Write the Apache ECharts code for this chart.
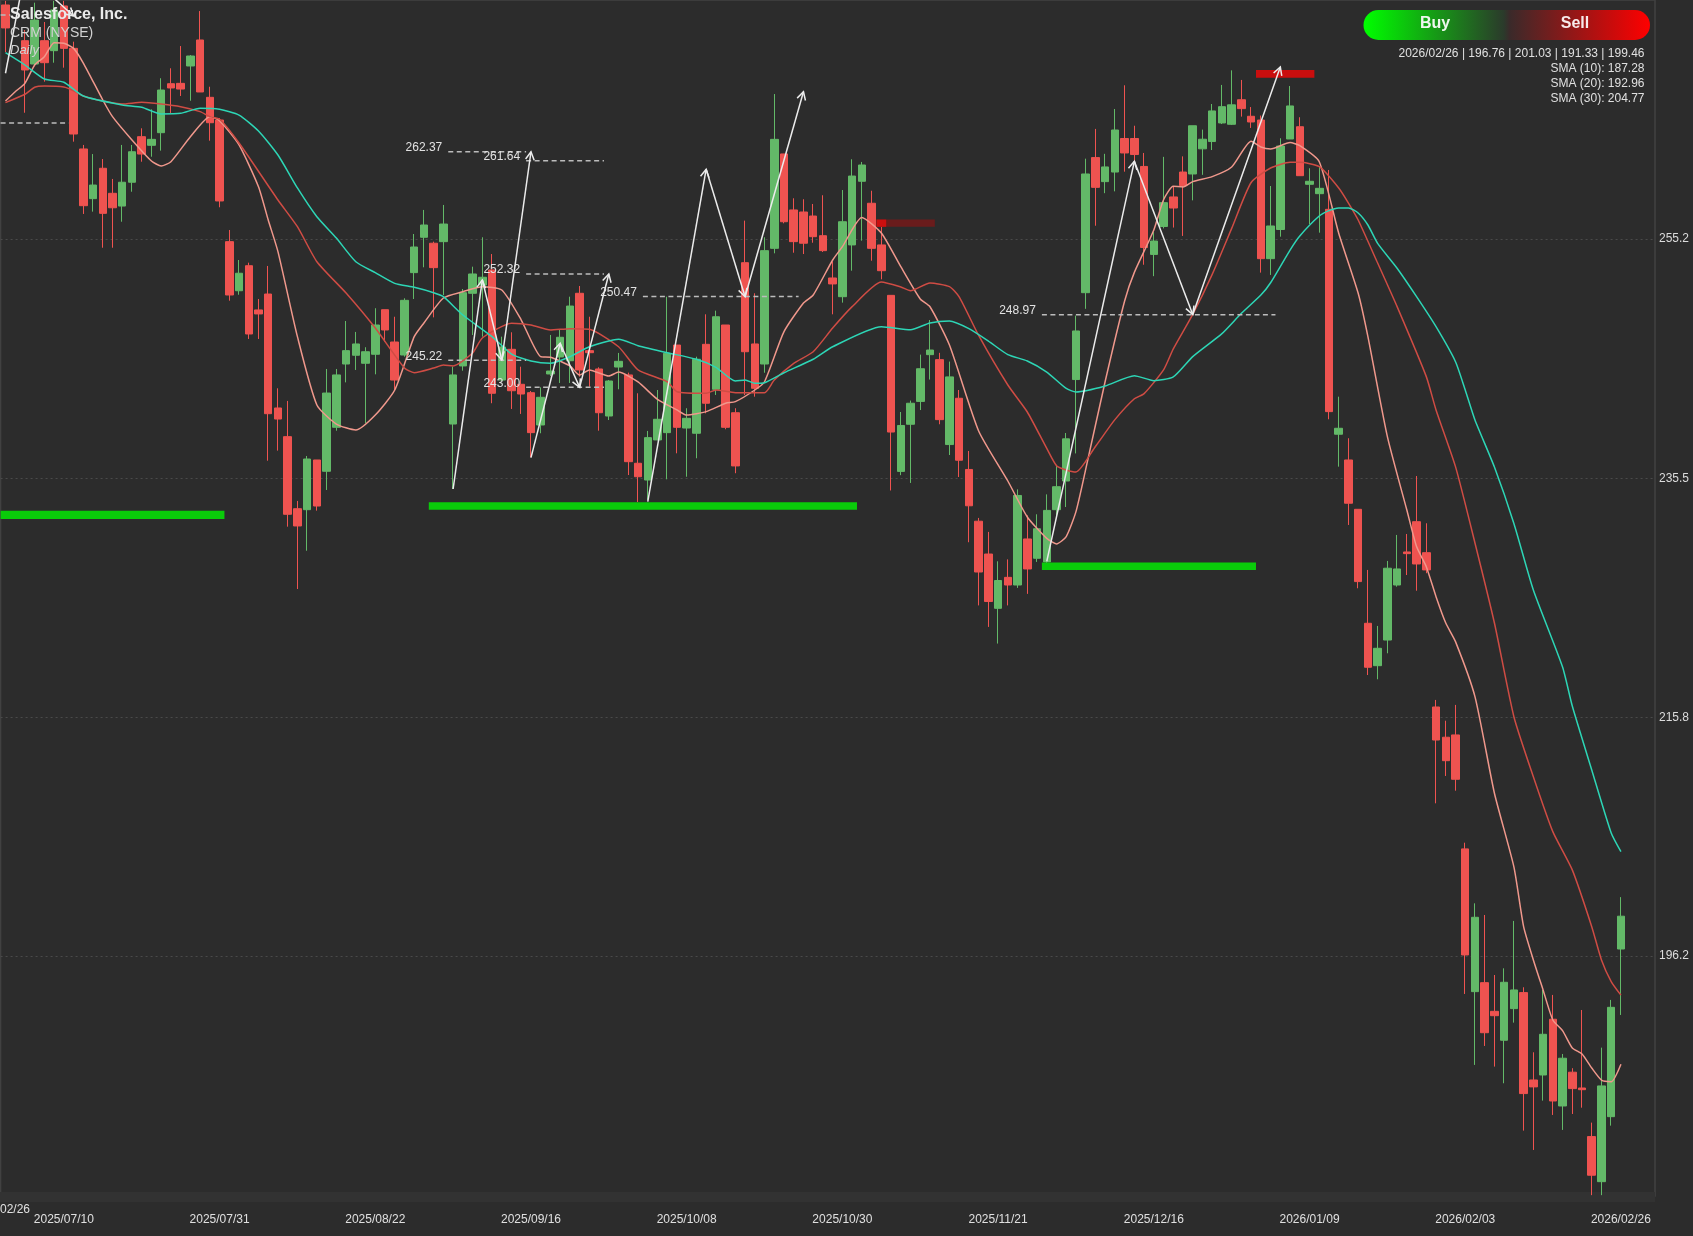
<!DOCTYPE html>
<html>
<head>
<meta charset="utf-8">
<title>CRM Daily</title>
<script src="https://cdn.jsdelivr.net/npm/echarts@6/dist/echarts.min.js"></script>
<style>
  html, body { margin: 0; padding: 0; background: #2c2c2c; }
  #main { width: 1693px; height: 1236px; }
</style>
</head>
<body>
<div id="main"></div>
<script>
// candles (oldest first)
const opens = [
  274.46,276.5,271.52,269.60,271.52,270.70,274.38,270.89,262.61,258.52,
  261.02,258.96,257.91,259.87,263.62,262.91,263.95,267.98,268.01,269.44,
  271.58,266.86,264.99,254.98,250.94,253.00,249.36,250.67,241.29,238.93,
  233.00,232.92,237.01,236.08,239.70,244.91,245.63,244.97,245.71,249.38,
  246.72,245.65,252.43,255.34,254.85,254.98,239.97,244.75,250.73,251.41,
  252.65,243.59,246.12,243.24,242.55,239.89,244.09,245.49,245.18,250.73,
  246.01,244.50,240.63,244.66,244.01,236.74,235.36,238.66,239.26,246.47,
  239.64,239.21,246.53,242.83,248.12,240.90,253.25,246.56,244.91,254.43,
  262.20,257.59,257.42,257.09,255.47,251.99,250.45,254.71,259.95,258.14,
  254.71,250.56,236.07,239.95,241.83,245.68,245.27,238.28,242.09,236.23,
  231.97,229.27,224.80,227.35,226.72,230.51,228.92,228.62,232.92,235.28,
  243.63,250.78,261.90,259.92,260.71,263.47,263.47,261.17,253.93,256.23,
  258.66,260.71,260.55,262.62,263.22,264.75,264.64,266.66,265.30,264.99,
  253.58,255.98,263.43,264.44,259.70,258.93,257.64,239.13,237.01,232.95,
  223.57,220.08,222.19,226.72,229.44,231.93,229.38,216.68,214.19,214.38,
  205.00,193.25,193.99,191.63,189.25,191.85,193.17,185.98,186.39,190.98,
  183.84,186.62,185.32,181.32,177.61,182.96,196.76
];
const closes = [
  272.57,275.6,269.11,273.22,269.71,274.05,270.89,263.84,257.94,259.64,
  257.31,257.77,259.87,262.38,262.19,263.40,267.46,267.63,267.54,270.26,
  267.30,264.77,258.33,250.59,252.38,247.38,249.03,240.82,240.38,232.54,
  231.58,237.09,233.22,242.52,244.01,246.01,246.56,245.92,248.12,247.71,
  243.59,250.15,254.54,256.35,252.84,256.43,244.01,250.78,252.32,252.05,
  242.50,246.31,242.71,242.44,239.26,242.17,244.33,247.11,249.68,244.42,
  245.84,240.90,243.51,245.13,236.87,235.63,238.85,240.36,245.79,239.70,
  240.44,245.30,241.68,248.80,239.70,236.52,245.92,242.91,254.24,263.40,
  256.62,254.98,254.85,255.39,254.24,251.50,256.62,260.38,261.29,254.43,
  252.59,239.31,239.85,241.68,244.52,246.06,240.33,243.85,236.99,233.24,
  227.79,225.36,227.09,226.72,234.09,228.04,231.35,232.86,234.81,238.75,
  247.63,260.55,259.45,261.13,264.17,262.28,262.15,254.50,255.03,258.19,
  257.75,259.60,264.52,263.41,265.74,266.09,266.24,265.93,264.83,253.58,
  256.27,262.85,266.15,260.41,259.95,259.37,240.99,239.62,233.45,227.00,
  219.95,221.51,228.10,228.04,229.30,228.45,227.96,213.96,212.26,210.73,
  196.27,199.37,189.87,191.27,194.02,193.39,184.86,185.41,189.74,184.25,
  187.77,185.27,185.18,178.14,185.49,191.96,199.46
];
const lows = [
  270.59,275.0,265.59,269.44,268.15,269.71,269.30,263.21,257.26,257.45,
  254.48,254.48,256.62,259.09,261.56,261.97,262.47,265.57,266.97,266.58,
  267.30,263.29,257.81,250.12,250.61,246.97,246.97,236.95,237.78,231.52,
  226.39,229.54,232.84,234.54,239.42,243.40,244.42,240.03,244.06,246.75,
  242.77,245.51,250.26,252.87,248.75,250.59,234.62,244.36,247.30,247.16,
  241.68,243.51,241.21,240.80,237.23,239.21,243.92,243.35,243.35,243.87,
  243.04,239.42,240.30,242.83,235.77,233.55,233.72,238.66,235.42,237.56,
  235.63,237.15,240.85,242.36,239.54,235.92,242.36,242.22,244.19,254.02,
  256.49,254.07,253.96,254.89,254.13,249.00,249.96,252.59,255.06,253.41,
  251.88,234.50,235.76,235.12,241.12,243.63,239.95,237.42,235.61,230.24,
  225.04,223.27,221.90,225.04,226.48,225.99,228.62,228.53,232.48,233.14,
  237.55,249.45,256.29,258.97,259.12,260.74,261.59,253.08,252.14,256.07,
  256.14,255.45,258.38,260.48,262.52,264.66,264.58,265.27,264.34,252.43,
  252.24,255.39,263.43,260.41,256.43,255.72,240.36,236.46,231.66,226.45,
  219.31,218.96,221.10,226.58,227.54,226.25,227.69,208.75,211.00,209.79,
  193.06,187.22,188.78,187.08,185.71,190.70,181.81,180.22,184.28,183.10,
  181.87,183.18,183.70,176.50,176.50,182.22,191.33
];
const highs = [
  274.80,277.0,272.40,274.65,273.06,274.80,274.80,271.44,262.94,262.19,
  261.78,260.14,262.94,262.94,264.31,265.87,268.43,269.25,271.08,270.34,
  273.96,267.73,265.16,255.94,253.47,253.25,250.26,252.98,242.91,241.87,
  233.64,237.34,237.01,244.50,244.50,248.45,247.55,246.29,249.50,249.38,
  248.80,250.32,255.61,257.59,254.98,258.00,244.69,251.08,252.92,255.34,
  253.96,247.16,247.52,244.69,242.69,242.99,247.30,247.71,250.45,251.33,
  248.80,244.64,243.59,245.82,244.20,242.50,239.40,242.77,250.45,246.47,
  241.27,245.51,249.00,249.30,248.12,241.27,256.71,250.73,255.34,267.13,
  262.20,258.55,258.47,258.08,258.80,253.33,259.23,261.76,261.54,259.17,
  256.21,250.56,240.96,241.90,245.68,248.53,245.83,245.11,242.77,237.75,
  232.24,231.09,228.67,228.83,234.59,232.45,232.54,234.18,236.61,239.23,
  248.89,261.81,264.26,262.21,265.90,267.85,264.52,262.28,255.76,261.96,
  259.54,262.00,264.52,264.20,266.31,267.88,269.08,268.29,266.06,265.36,
  259.56,263.49,267.79,265.22,261.02,261.15,260.88,242.22,238.80,232.95,
  227.96,223.35,228.70,230.84,230.92,235.69,231.80,217.26,215.55,216.85,
  205.51,200.52,199.56,194.62,195.17,199.07,193.61,188.26,193.39,192.98,
  188.12,186.95,191.74,182.47,188.64,192.57,201.03
];

// moving averages, read at the bars where the line could be seen
const sma10Bars = [0,1,2,3,4,5,6,7,8,10,11,13,15,16,17,19,21,22,24,26,27,28,30,32,34,36,38,40,42,43,45,47,49,51,53,55,56,58,59,60,62,63,65,67,69,70,72,74,75,77,78,80,82,83,85,86,88,90,92,94,95,97,100,103,105,107,108,109,110,111,113,115,116,118,119,120,121,122,124,126,128,129,130,132,133,135,137,139,140,142,144,145,146,147,148,149,151,153,155,156,157,158,159,160,161,162,163,164,165,166];
const sma10Values = [266.56,267.32,268.01,269.52,270.20,271.36,271.31,270.89,269.68,266.64,265.27,263.35,261.62,261.21,261.56,263.62,265.27,264.94,262.94,259.50,256.76,254.16,247.16,241.54,239.97,239.48,240.71,242.77,247.16,248.29,250.34,250.86,251.27,251.00,248.53,245.51,245.46,244.75,244.00,244.42,243.92,244.25,243.43,242.00,241.13,240.71,240.99,241.68,241.81,242.77,243.45,247.57,249.93,250.59,253.47,254.57,256.97,255.69,252.92,250.26,249.62,246.47,239.40,235.28,232.32,230.56,230.10,230.71,232.76,236.23,243.47,250.10,252.45,255.94,258.43,259.54,259.48,259.92,260.33,261.12,263.24,262.77,262.61,263.14,262.88,261.56,255.67,250.73,247.16,238.93,232.89,229.88,228.23,225.76,223.59,222.06,217.53,209.58,203.52,198.60,195.86,193.39,190.92,190.04,188.61,188.12,186.96,185.97,185.84,187.28];
const sma20Bars = [0,2,3,4,6,7,8,10,12,14,16,18,20,21,22,24,28,30,32,35,38,41,42,44,45,46,48,49,52,54,56,58,60,63,65,68,69,72,73,75,78,79,81,83,85,87,90,92,93,95,97,98,100,103,105,107,108,109,110,112,114,116,117,119,120,122,124,126,128,130,132,133,135,137,138,139,141,143,146,147,149,151,153,155,157,159,161,163,164,165,166];
const sma20Values = [266.42,267.11,267.69,267.79,267.71,267.40,266.97,266.56,266.31,266.45,266.31,266.09,265.68,265.27,265.05,263.10,258.41,256.21,253.33,250.75,247.87,244.58,244.20,244.58,244.83,244.75,245.82,247.05,248.26,248.12,247.71,247.82,247.77,246.33,244.42,243.45,242.63,242.50,242.77,242.55,242.55,243.59,244.97,245.92,247.87,249.63,251.66,251.25,250.94,251.58,251.28,250.43,247.26,243.18,240.96,237.96,236.54,236.19,236.02,238.12,240.33,242.05,242.47,244.42,246.15,248.99,252.29,256.07,259.85,261.04,261.51,261.51,261.15,259.40,258.16,256.76,253.22,249.63,243.87,241.13,236.46,230.18,223.59,215.88,210.94,206.42,203.27,198.60,195.86,194.08,192.96];
const sma30Bars = [0,2,4,6,8,12,14,16,18,20,22,24,26,28,30,32,34,36,38,40,42,44,45,47,50,52,54,56,58,60,63,65,68,71,73,75,76,77,78,80,83,85,90,93,95,97,99,101,103,105,107,109,110,113,116,118,120,122,125,127,129,130,132,133,135,136,137,138,139,140,141,143,145,147,149,150,151,153,155,157,160,161,163,165,166];
const sma30Values = [270.53,269.52,268.37,268.10,266.97,266.23,266.04,265.49,265.54,265.96,265.87,265.40,264.09,262.11,259.40,257.03,255.28,253.33,252.43,251.55,251.22,250.78,250.45,248.94,247.16,245.73,245.16,244.97,245.51,246.33,246.94,246.42,245.84,245.30,244.64,243.51,243.59,243.32,243.37,244.19,245.30,246.33,247.98,247.73,248.29,248.45,247.82,246.80,245.68,245.16,244.25,242.90,242.61,243.10,243.95,243.54,243.85,245.52,247.41,249.08,250.59,251.60,254.29,255.45,257.09,257.53,257.75,257.75,257.34,256.35,254.84,252.79,250.45,247.98,245.10,242.77,240.30,236.43,231.79,226.31,219.97,216.76,211.50,206.31,204.77];

// x axis: 167 bars plus 3 empty ones on the right, only every 16th bar is labelled
const barCount = 170;
const tickBars = [6,22,38,54,70,86,102,118,134,150,166];
const tickDates = ['2025/07/10','2025/07/31','2025/08/22','2025/09/16','2025/10/08','2025/10/30','2025/11/21','2025/12/16','2026/01/09','2026/02/03','2026/02/26'];
const priceTicks = [255.2,235.5,215.8,196.2];

// supply / demand zones: first bar, end bar, top price, bottom price
const zoneStart = [0,44,107,90,90,129];
const zoneEnd = [23,88,129,96,91,135];
const zoneTop = [232.84,233.53,228.57,256.80,256.80,269.11];
const zoneBottom = [232.15,232.92,227.96,256.20,256.20,268.47];
const zoneColors = ['#0acb0a','#0acb0a','#0acb0a','#6a1c1c','#cc0f0f','#c90e0e'];

// dashed swing levels
const levelStart = [46,54,54,66,46,54,107,0,0];
const levelEnd = [54,62,62,82,54,62,131,7,1];
const levelPrice = [262.37,261.64,252.32,250.47,245.22,243.00,248.97,264.75,273.64];
const levelText = ['262.37','261.64','252.32','250.47','245.22','243.00','248.97','',''];

// zigzag arrows: bar, price
const waveTop = [[0,268.84],[2,277.17],[7,273.55]];
const waveA = [[46,234.62],[49,251.83],[51,245.24],[54,262.38]];
const waveB = [[54,237.20],[57,246.62],[59,242.99],[62,252.32]];
const waveC = [[66,233.58],[72,260.94],[76,250.45],[82,267.32]];
const waveD = [[107,228.67],[116,261.59],[122,248.99],[131,269.36]];

const infoLines = ['2026/02/26 | 196.76 | 201.03 | 191.33 | 199.46','SMA (10): 187.28','SMA (20): 192.96','SMA (30): 204.77'];

const FONT = '"Liberation Sans", Arial, sans-serif';

const categories = [];
for (let i = 0; i < barCount; i++) {
  const k = tickBars.indexOf(i);
  categories.push(k >= 0 ? tickDates[k] : '');
}

const candleData = opens.map((o, i) => [o, closes[i], lows[i], highs[i]]);
const pairs = (bars, vals) => bars.map((b, i) => [b, vals[i]]);

const segments = [];
[waveTop, waveA, waveB, waveC, waveD].forEach(w => {
  for (let i = 1; i < w.length; i++) segments.push([w[i - 1][0], w[i - 1][1], w[i][0], w[i][1]]);
});

function edgeX(api, bar) {
  return api.coord([bar, 0])[0] - api.size([1, 0])[0] / 2;
}

function renderZone(params, api) {
  const x0 = edgeX(api, api.value(0));
  const x1 = edgeX(api, api.value(1));
  const y0 = api.coord([0, api.value(2)])[1];
  const y1 = api.coord([0, api.value(3)])[1];
  return {
    type: 'rect',
    shape: { x: x0, y: y0, width: x1 - x0, height: y1 - y0 },
    style: { fill: zoneColors[params.dataIndex] }
  };
}

function renderLevel(params, api) {
  const x0 = edgeX(api, api.value(0));
  const x1 = edgeX(api, api.value(1));
  const y = api.coord([0, api.value(2)])[1];
  const children = [{
    type: 'line',
    shape: { x1: x0, y1: y, x2: x1, y2: y },
    style: { stroke: '#bcbcbc', lineWidth: 1.5, lineDash: [5, 3.5] }
  }];
  const txt = levelText[params.dataIndex];
  if (txt) {
    children.push({
      type: 'text',
      style: { text: txt, x: x0 - 6, y: y - 4, textAlign: 'right', textVerticalAlign: 'middle', fill: '#e2e2e2', font: '12px ' + FONT }
    });
  }
  return { type: 'group', children: children };
}

function renderSegment(params, api) {
  const a = api.coord([api.value(0), api.value(1)]);
  const b = api.coord([api.value(2), api.value(3)]);
  const ang = Math.atan2(b[1] - a[1], b[0] - a[0]);
  const head = 9, spread = 0.5;
  const p1 = [b[0] - head * Math.cos(ang - spread), b[1] - head * Math.sin(ang - spread)];
  const p2 = [b[0] - head * Math.cos(ang + spread), b[1] - head * Math.sin(ang + spread)];
  return {
    type: 'group',
    children: [
      { type: 'line', shape: { x1: a[0], y1: a[1], x2: b[0], y2: b[1] }, style: { stroke: '#ececec', lineWidth: 1.5 } },
      { type: 'polyline', shape: { points: [p1, b, p2] }, style: { stroke: '#ececec', lineWidth: 1.5, fill: null } }
    ]
  };
}

const chart = echarts.init(document.getElementById('main'));

const option = {
  backgroundColor: '#2c2c2c',
  animation: false,
  textStyle: { fontFamily: FONT },
  grid: {
    left: 0.6, right: 38, top: 0, bottom: 40,
    show: true,
    backgroundColor: 'transparent',
    borderColor: '#414141',
    borderWidth: 1.5
  },
  xAxis: {
    type: 'category',
    data: categories,
    boundaryGap: true,
    axisLine: { show: false },
    axisTick: { show: false },
    splitLine: { show: false },
    axisLabel: {
      color: '#e0e0e0',
      fontSize: 12,
      margin: 18,
      hideOverlap: false,
      interval: (i, v) => v !== ''
    }
  },
  yAxis: {
    type: 'value',
    position: 'right',
    min: 176.43,
    max: 274.87,
    axisLine: { show: false },
    axisTick: { show: false, customValues: priceTicks },
    axisLabel: {
      color: '#dcdcdc',
      fontSize: 12,
      margin: 4,
      showMinLabel: true,
      showMaxLabel: true,
      customValues: priceTicks,
      formatter: v => v.toFixed(1)
    },
    splitLine: { show: true, lineStyle: { color: '#4a4a4a', width: 1, type: [2, 3] } }
  },
  graphic: [
    { type: 'rect', z: 0, shape: { x: 0, y: 1192, width: 1655, height: 10 }, style: { fill: '#323232' } },
    { type: 'text', z: 100, style: { text: 'Salesforce, Inc.', x: 10, y: 15, textVerticalAlign: 'middle', fill: '#eaeaea', font: 'bold 16px ' + FONT } },
    { type: 'text', z: 100, style: { text: 'CRM (NYSE)', x: 10, y: 33, textVerticalAlign: 'middle', fill: '#d2d2d2', font: '14px ' + FONT } },
    { type: 'text', z: 100, style: { text: 'Daily', x: 10, y: 50, textVerticalAlign: 'middle', fill: '#d2d2d2', font: 'italic 13px ' + FONT } },
    {
      type: 'rect', z: 100,
      shape: { x: 1363.5, y: 10, width: 286.5, height: 30, r: 15 },
      style: {
        fill: new echarts.graphic.LinearGradient(0, 0, 1, 0, [
          { offset: 0, color: '#00ff00' },
          { offset: 0.49, color: '#2b3a2b' },
          { offset: 0.51, color: '#3a2a2a' },
          { offset: 1, color: '#ff0000' }
        ])
      }
    },
    { type: 'text', z: 101, style: { text: 'Buy', x: 1435, y: 24, textAlign: 'center', textVerticalAlign: 'middle', fill: '#eef7ee', font: 'bold 16px ' + FONT } },
    { type: 'text', z: 101, style: { text: 'Sell', x: 1575, y: 24, textAlign: 'center', textVerticalAlign: 'middle', fill: '#f7eaea', font: 'bold 16px ' + FONT } }
  ].concat(infoLines.map((t, i) => ({
    type: 'text', z: 100,
    style: { text: t, x: 1644.5, y: 53.5 + i * 15, textAlign: 'right', textVerticalAlign: 'middle', fill: '#e0e0e0', font: '12px ' + FONT }
  }))).concat([
    { type: 'text', z: 100, style: { text: '2026/02/26', x: 0, y: 1210, textAlign: 'center', textVerticalAlign: 'middle', fill: '#e0e0e0', font: '12px ' + FONT } }
  ]),
  series: [
    {
      type: 'candlestick',
      data: candleData,
      barWidth: 8,
      z: 2,
      itemStyle: {
        color: '#63b968',
        color0: '#ef5350',
        borderColor: '#63b968',
        borderColor0: '#ef5350',
        borderWidth: 1
      }
    },
    {
      type: 'custom', name: 'zones', z: 3, clip: true,
      data: zoneStart.map((s, i) => [s, zoneEnd[i], zoneTop[i], zoneBottom[i]]),
      encode: { x: [0, 1], y: [2, 3] },
      renderItem: renderZone
    },
    { type: 'line', name: 'SMA (10)', z: 4, data: pairs(sma10Bars, sma10Values), showSymbol: false, smooth: 0.2, lineStyle: { color: '#f0988c', width: 1.5 } },
    { type: 'line', name: 'SMA (20)', z: 4, data: pairs(sma20Bars, sma20Values), showSymbol: false, smooth: 0.2, lineStyle: { color: '#cf4c44', width: 1.5 } },
    { type: 'line', name: 'SMA (30)', z: 4, data: pairs(sma30Bars, sma30Values), showSymbol: false, smooth: 0.2, lineStyle: { color: '#2dd6b6', width: 1.5 } },
    {
      type: 'custom', name: 'levels', z: 5, clip: true,
      data: levelStart.map((s, i) => [s, levelEnd[i], levelPrice[i]]),
      encode: { x: [0, 1], y: 2 },
      renderItem: renderLevel
    },
    {
      type: 'custom', name: 'waves', z: 6, clip: true,
      data: segments,
      encode: { x: [0, 2], y: [1, 3] },
      renderItem: renderSegment
    }
  ]
};

chart.setOption(option);
</script>
</body>
</html>
